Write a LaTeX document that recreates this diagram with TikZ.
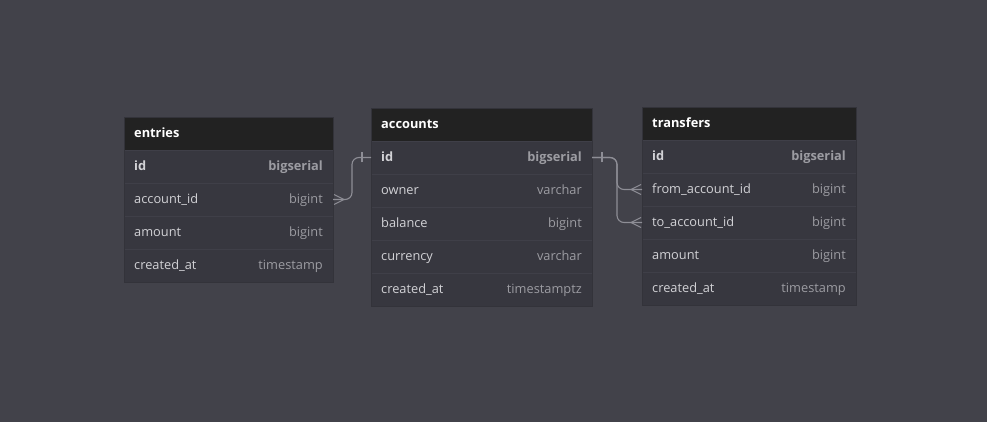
\documentclass[tikz,border=0pt]{standalone}
\usepackage{fontspec}
\setmainfont{Open Sans}
\definecolor{bgc}{HTML}{42424A}
\definecolor{bodyc}{HTML}{37373F}
\definecolor{hdrc}{HTML}{222222}
\definecolor{sepc}{HTML}{3F3F48}
\definecolor{edgec}{HTML}{33333A}
\definecolor{fieldc}{HTML}{D2D2D6}
\definecolor{typec}{HTML}{9C9CA2}
\definecolor{connc}{HTML}{8E8E96}
\tikzset{
  hdr/.style={rectangle, fill=hdrc, anchor=north west, minimum height=32pt, inner sep=0pt, outer sep=0pt},
  rowbox/.style={rectangle, fill=bodyc, anchor=north west, minimum height=33pt, inner sep=0pt, outer sep=0pt},
  hdrtxt/.style={anchor=base west, text=white, font=\fontsize{12.8}{15}\selectfont\bfseries, inner sep=0pt},
  fldtxt/.style={anchor=base west, text=fieldc, font=\fontsize{12.8}{15}\selectfont, inner sep=0pt},
  typtxt/.style={anchor=base east, text=typec, font=\fontsize{12.8}{15}\selectfont, inner sep=0pt},
  keyfld/.style={font=\fontsize{12.8}{15}\selectfont\bfseries},
  conn/.style={draw=connc, line width=1.1pt, rounded corners=7pt},
  foot/.style={draw=connc, line width=1.1pt},
}
% #1 name, #2 x, #3 y, #4 width, #5 title
\newcommand\erdhead[5]{%
  \node[hdr, minimum width=#4pt] (#1) at (#2,#3) {};
  \node[hdrtxt] (#1-t) at ([xshift=10pt,yshift=-3.8pt]#1.west) {#5};
}
% #1 name, #2 x, #3 y, #4 width, #5 field, #6 type, #7 extra style
\newcommand\erdrow[7]{%
  \node[rowbox, minimum width=#4pt] (#1) at (#2,#3) {};
  \draw[sepc, line width=0.8pt] (#1.north west) -- (#1.north east);
  \node[fldtxt, #7] (#1-f) at ([xshift=10pt,yshift=-3.8pt]#1.west) {#5};
  \node[typtxt, #7] (#1-y) at ([xshift=-10pt,yshift=-3.8pt]#1.east) {#6};
}
\begin{document}
\begin{tikzpicture}[x=1pt, y=-1pt]
\fill[bgc] (0,0) rectangle (987,422);
\useasboundingbox (0,0) rectangle (987,422);

% entries
\erdhead{ent}{124}{118}{209}{entries}
\erdrow{ent-id}{124}{150}{209}{id}{bigserial}{keyfld}
\erdrow{ent-acc}{124}{183}{209}{account\_id}{bigint}{}
\erdrow{ent-amt}{124}{216}{209}{amount}{bigint}{}
\erdrow{ent-cr}{124}{249}{209}{created\_at}{timestamp}{}
\draw[edgec, line width=1pt] (ent.north west) rectangle (ent-cr.south east);

% accounts
\erdhead{acc}{371}{109}{221}{accounts}
\erdrow{acc-id}{371}{141}{221}{id}{bigserial}{keyfld}
\erdrow{acc-own}{371}{174}{221}{owner}{varchar}{}
\erdrow{acc-bal}{371}{207}{221}{balance}{bigint}{}
\erdrow{acc-cur}{371}{240}{221}{currency}{varchar}{}
\erdrow{acc-cr}{371}{273}{221}{created\_at}{timestamptz}{}
\draw[edgec, line width=1pt] (acc.north west) rectangle (acc-cr.south east);

% transfers
\erdhead{tra}{642}{108}{214}{transfers}
\erdrow{tra-id}{642}{140}{214}{id}{bigserial}{keyfld}
\erdrow{tra-from}{642}{173}{214}{from\_account\_id}{bigint}{}
\erdrow{tra-to}{642}{206}{214}{to\_account\_id}{bigint}{}
\erdrow{tra-amt}{642}{239}{214}{amount}{bigint}{}
\erdrow{tra-cr}{642}{272}{214}{created\_at}{timestamp}{}
\draw[edgec, line width=1pt] (tra.north west) rectangle (tra-cr.south east);

% accounts.id -> entries.account_id
\draw[conn] (acc-id.west) -- ++(-19,0) |- (ent-acc.east);
\draw[foot] ([xshift=-9pt,yshift=-5pt]acc-id.west) -- ([xshift=-9pt,yshift=5pt]acc-id.west);
\draw[foot] ([xshift=1pt,yshift=-5pt]ent-acc.east) -- ([xshift=11pt]ent-acc.east) -- ([xshift=1pt,yshift=5pt]ent-acc.east);

% accounts.id -> transfers.from / to
\draw[conn] (acc-id.east) -- ++(25,0) |- (tra-from.west);
\draw[conn] (acc-id.east) -- ++(25,0) |- (tra-to.west);
\draw[foot] ([xshift=10pt,yshift=-5pt]acc-id.east) -- ([xshift=10pt,yshift=5pt]acc-id.east);
\draw[foot] ([xshift=-1pt,yshift=-5pt]tra-from.west) -- ([xshift=-11pt]tra-from.west) -- ([xshift=-1pt,yshift=5pt]tra-from.west);
\draw[foot] ([xshift=-1pt,yshift=-5pt]tra-to.west) -- ([xshift=-11pt]tra-to.west) -- ([xshift=-1pt,yshift=5pt]tra-to.west);
\end{tikzpicture}
\end{document}
